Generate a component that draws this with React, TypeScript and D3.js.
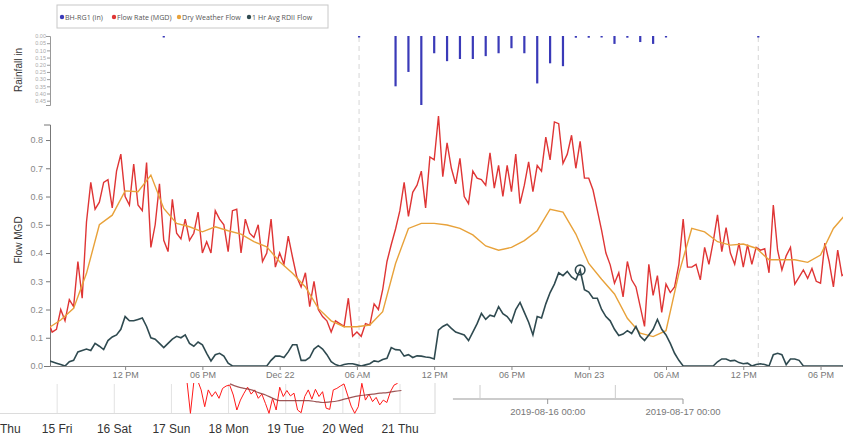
import React, { useEffect, useRef } from "react";
import * as d3 from "d3";

const W = 843;
const H = 448;

// ---------- legend ----------
const seriesNames = ["BH-RG1 (in)", "Flow Rate (MGD)", "Dry Weather Flow", "1 Hr Avg RDII Flow"];
const seriesColors = ["#3a3ab8", "#df3535", "#e8a23a", "#2f4a50"];

// ---------- main flow data (20-minute samples from flowStart) ----------
const flowStart = "2019-12-21T06:00:00";
const flowStepMin = 20;
const flowRate = [
  0.16, 0.12, 0.13, 0.2, 0.16, 0.235, 0.21, 0.37, 0.24, 0.51,
  0.65, 0.555, 0.58, 0.65, 0.66, 0.56, 0.69, 0.75, 0.6, 0.57,
  0.715, 0.57, 0.55, 0.72, 0.42, 0.5, 0.645, 0.445, 0.405, 0.59,
  0.47, 0.45, 0.52, 0.445, 0.47, 0.545, 0.4, 0.44, 0.4, 0.55,
  0.52, 0.5, 0.405, 0.55, 0.555, 0.4, 0.52, 0.47, 0.455, 0.5,
  0.37, 0.4, 0.52, 0.35, 0.4, 0.36, 0.46, 0.385, 0.315, 0.28,
  0.33, 0.21, 0.3, 0.2, 0.175, 0.16, 0.12, 0.16, 0.15, 0.14,
  0.24, 0.105, 0.12, 0.105, 0.15, 0.145, 0.22, 0.2, 0.27, 0.37,
  0.43, 0.485, 0.55, 0.65, 0.53, 0.615, 0.64, 0.69, 0.56, 0.74,
  0.73, 0.885, 0.67, 0.79, 0.7, 0.645, 0.735, 0.6, 0.575, 0.69,
  0.665, 0.66, 0.64, 0.755, 0.63, 0.71, 0.6, 0.71, 0.617, 0.75,
  0.575, 0.64, 0.723, 0.617, 0.71, 0.69, 0.81, 0.73, 0.864, 0.858,
  0.717, 0.75, 0.817, 0.7, 0.795, 0.665, 0.665, 0.623, 0.552, 0.48,
  0.4, 0.358, 0.293, 0.33, 0.245, 0.37, 0.305, 0.28, 0.21, 0.14,
  0.36, 0.25, 0.32, 0.19, 0.29, 0.26, 0.28, 0.36, 0.52, 0.35,
  0.35, 0.36, 0.305, 0.42, 0.36, 0.44, 0.535, 0.405, 0.49, 0.4,
  0.36, 0.435, 0.35, 0.43, 0.36, 0.42, 0.41, 0.415, 0.33, 0.57,
  0.41, 0.34, 0.39, 0.42, 0.29, 0.315, 0.34, 0.31, 0.345, 0.3,
  0.293, 0.435, 0.37, 0.28, 0.41, 0.32, 0.33, 0.33,
];
const rdiiFlow = [
  0.02, 0.015, 0.01, 0.005, 0, 0.015, 0.02, 0.05, 0.055, 0.06,
  0.055, 0.08, 0.07, 0.058, 0.09, 0.103, 0.11, 0.13, 0.175, 0.16,
  0.16, 0.165, 0.17, 0.14, 0.1, 0.095, 0.08, 0.065, 0.08, 0.095,
  0.105, 0.1, 0.11, 0.08, 0.07, 0.085, 0.075, 0.045, 0.018, 0.04,
  0.045, 0.035, 0.01, 0, 0, 0, 0, 0, 0, 0,
  0, 0, 0.02, 0.035, 0.035, 0.03, 0.05, 0.075, 0.075, 0.02,
  0.02, 0.03, 0.06, 0.072, 0.06, 0.04, 0.015, 0.005, 0, 0.005,
  0.008, 0.008, 0.004, 0, 0.004, 0.008, 0.018, 0.015, 0.023, 0.027,
  0.065, 0.058, 0.057, 0.035, 0.04, 0.03, 0.036, 0.035, 0.032, 0.03,
  0.025, 0.127, 0.14, 0.148, 0.133, 0.12, 0.115, 0.11, 0.09, 0.12,
  0.15, 0.186, 0.165, 0.18, 0.175, 0.21, 0.185, 0.175, 0.155, 0.2,
  0.225, 0.19, 0.155, 0.11, 0.175, 0.17, 0.22, 0.26, 0.29, 0.33,
  0.32, 0.335, 0.315, 0.305, 0.34, 0.27, 0.262, 0.24, 0.24, 0.2,
  0.175, 0.16, 0.13, 0.108, 0.113, 0.125, 0.115, 0.14, 0.105, 0.09,
  0.11, 0.13, 0.165, 0.13, 0.11, 0.08, 0.045, 0.02, 0, 0,
  0, 0, 0, 0, 0, 0, 0.015, 0.025, 0.025, 0.018,
  0.02, 0.012, 0.008, 0.01, 0, 0.005, 0.008, 0.005, 0, 0.04,
  0.045, 0.04, 0.005, 0.025, 0.025, 0.02, 0, 0, 0, 0,
  0, 0, 0, 0, 0, 0, 0, 0,
];
const markerIndex = 124;

// hourly dry weather flow
const dwfStepMin = 60;
const dryWeatherFlow = [
  0.133, 0.163, 0.204, 0.328, 0.5, 0.534, 0.62, 0.617, 0.676, 0.558,
  0.505, 0.493, 0.475, 0.493, 0.479, 0.467, 0.44, 0.422, 0.369, 0.328,
  0.28, 0.204, 0.16, 0.139, 0.139, 0.145, 0.192, 0.363, 0.487, 0.505,
  0.505, 0.499, 0.487, 0.464, 0.425, 0.41, 0.42, 0.444, 0.479, 0.555,
  0.545, 0.467, 0.363, 0.307, 0.255, 0.169, 0.116, 0.104, 0.125, 0.328,
  0.487, 0.475, 0.44, 0.428, 0.432, 0.417, 0.376, 0.376, 0.376, 0.367,
  0.393, 0.487, 0.54,
];

// rainfall (inches per hour)
const rainTimes = [
  "2019-12-21T15:00:00", "2019-12-22T06:10:00",
  "2019-12-22T09:00:00", "2019-12-22T10:00:00", "2019-12-22T11:00:00", "2019-12-22T12:00:00",
  "2019-12-22T13:00:00", "2019-12-22T14:00:00", "2019-12-22T15:00:00", "2019-12-22T16:00:00",
  "2019-12-22T17:00:00", "2019-12-22T18:00:00", "2019-12-22T19:00:00", "2019-12-22T20:00:00",
  "2019-12-22T21:00:00", "2019-12-22T22:00:00", "2019-12-22T23:00:00", "2019-12-23T00:00:00",
  "2019-12-23T01:00:00", "2019-12-23T02:00:00", "2019-12-23T03:00:00", "2019-12-23T04:00:00",
  "2019-12-23T05:00:00", "2019-12-23T06:00:00", "2019-12-23T13:10:00",
];
const rainfall = [
  0.004, 0.004,
  0.35, 0.25, 0.48, 0.12, 0.175, 0.16, 0.16, 0.14, 0.12, 0.085, 0.12,
  0.33, 0.19, 0.21, 0.012, 0.012, 0.006, 0.055, 0.012, 0.042, 0.055, 0.006,
  0.004,
];
const eventTimes = ["2019-12-22T06:10:00", "2019-12-23T13:10:00"];

const xDomain = ["2019-12-21T06:10:00", "2019-12-23T19:40:00"];
const xTickTimes = [
  "2019-12-21T12:00:00", "2019-12-21T18:00:00", "2019-12-22T00:00:00", "2019-12-22T06:00:00",
  "2019-12-22T12:00:00", "2019-12-22T18:00:00", "2019-12-23T00:00:00", "2019-12-23T06:00:00",
  "2019-12-23T12:00:00", "2019-12-23T18:00:00",
];
const xTickLabels = ["12 PM", "06 PM", "Dec 22", "06 AM", "12 PM", "06 PM", "Mon 23", "06 AM", "12 PM", "06 PM"];
const flowTicks = [0, 0.1, 0.2, 0.3, 0.4, 0.5, 0.6, 0.7, 0.8];
const rainTicks = [0, 0.05, 0.1, 0.15, 0.2, 0.25, 0.3, 0.35, 0.4, 0.45];

// ---------- navigator fragment ----------
const navDayLabels = ["Thu", "15 Fri", "16 Sat", "17 Sun", "18 Mon", "19 Tue", "20 Wed", "21 Thu"];
const navFlowStartDay = 3.27;
const navFlowStep = 1 / 16;
const navFlow = [
  1.1, 0.0, 1.1, 1.1, 0.78, 0.22, 0.78, 0.56, 0.72, 0.5,
  0.83, 0.91, 0.94, 0.61, 0.11, 0.44, 0.67, 0.87, 0.64, 0.78,
  0.5, 0.64, 0.33, 0.0, 0.5, 0.11, 0.87, 0.56, 0.76, 0.58,
  0.67, 0.11, 0.02, 0.56, 0.78, 0.47, 0.8, 0.56, 0.72, 0.17,
  0.13, 0.78, 0.83, 0.91, 0.98, 0.61, 0.24, 0.0, 0.22, 1.0,
  0.44, 0.64, 0.39, 0.53, 0.28, 0.44, 0.36, 0.72, 0.94, 1.0,
];
const navAvgStartDay = 4.025;
const navAvgStep = 1 / 8;
const navAvg = [
  0.98, 0.89, 0.83, 0.78, 0.69, 0.61, 0.5, 0.42, 0.42, 0.42,
  0.42, 0.42, 0.39, 0.36, 0.38, 0.41, 0.47, 0.53, 0.58, 0.61,
  0.64, 0.67, 0.69, 0.73, 0.76,
];
const rangeStart = "2019-08-15T07:12:00";
const rangeTickTimes = ["2019-08-15T12:00:00", "2019-08-16T00:00:00", "2019-08-16T12:00:00", "2019-08-17T00:00:00"];
const rangeTickLabels = ["", "2019-08-16 00:00", "", "2019-08-17 00:00"];

const FONT = "'Liberation Sans', Arial, sans-serif";

export default function App() {
  const flowAxisRef = useRef<SVGGElement>(null);
  const rainAxisRef = useRef<SVGGElement>(null);
  const xAxisRef = useRef<SVGGElement>(null);

  const x = d3.scaleTime().domain(xDomain.map((s) => new Date(s))).range([50, 842]);
  const yFlow = d3.scaleLinear().domain([0, 0.855]).range([366, 124.5]);
  const yRain = d3.scaleLinear().domain([0, 0.48]).range([36, 105]);

  const t0 = +new Date(flowStart);
  const flowTimes = flowRate.map((_, i) => new Date(t0 + i * flowStepMin * 60000));
  const dwfTimes = dryWeatherFlow.map((_, i) => new Date(t0 + i * dwfStepMin * 60000));

  const redLine = d3.line<number>().x((_, i) => x(flowTimes[i])).y((d) => yFlow(d));
  const darkLine = d3.line<number>().x((_, i) => x(flowTimes[i])).y((d) => yFlow(d));
  const orangeLine = d3
    .line<number>()
    .x((_, i) => x(dwfTimes[i]))
    .y((d) => yFlow(d));

  const navX = d3.scaleLinear().domain([0, 7]).range([0, 400]);
  const navY = d3.scaleLinear().domain([0, 1]).range([413.3, 383.3]);
  const navFlowLine = d3
    .line<number>()
    .x((_, i) => navX(navFlowStartDay + i * navFlowStep))
    .y((d) => navY(d));
  const navAvgLine = d3
    .line<number>()
    .x((_, i) => navX(navAvgStartDay + i * navAvgStep))
    .y((d) => navY(d))
    .curve(d3.curveMonotoneX);

  const rangeX = d3
    .scaleTime()
    .domain([new Date(rangeTickTimes[0]), new Date(rangeTickTimes[3])])
    .range([480, 683]);

  useEffect(() => {
    document.body.style.margin = "0";
    const fa = d3.select(flowAxisRef.current!);
    fa.call(
      d3.axisLeft(yFlow).tickValues(flowTicks).tickFormat(d3.format(".1f")).tickSize(4).tickSizeOuter(6)
    );
    fa.selectAll("path,line").attr("stroke", "#777");
    fa.selectAll("text").attr("fill", "#888").style("font-size", "9px").style("font-family", FONT);

    const ra = d3.select(rainAxisRef.current!);
    ra.call(
      d3.axisLeft(yRain).tickValues(rainTicks).tickFormat(d3.format(".2f")).tickSize(3).tickSizeOuter(4)
    );
    ra.selectAll("path,line").attr("stroke", "#999");
    ra.selectAll("text")
      .attr("fill", "#aaa")
      .attr("x", -4)
      .style("font-size", "5.5px")
      .style("font-family", FONT);

    const xa = d3.select(xAxisRef.current!);
    xa.call(
      d3
        .axisBottom(x)
        .tickValues(xTickTimes.map((s) => new Date(s)))
        .tickFormat((_, i) => xTickLabels[i])
        .tickSize(4)
        .tickSizeOuter(0)
    );
    xa.selectAll("path,line").attr("stroke", "#888");
    xa.selectAll("text").attr("fill", "#777").attr("y", 6).style("font-size", "9px").style("font-family", FONT);
  }, []);

  const legendX = [62, 114, 179, 249];
  const mx = x(flowTimes[markerIndex]);
  const my = yFlow(rdiiFlow[markerIndex]);

  return (
    <svg
      width={W}
      height={H}
      style={{ position: "absolute", left: 0, top: 0, background: "#fff", fontFamily: FONT }}
    >
      <defs>
        <clipPath id="plotClip">
          <rect x={50} y={110} width={793} height={258} />
        </clipPath>
        <clipPath id="navClip">
          <rect x={0} y={383} width={435} height={31} />
        </clipPath>
      </defs>
      <rect x={0} y={0} width={W} height={H} fill="#fff" />

      {/* legend */}
      <rect x={57} y={5} width={271} height={23} fill="#fff" stroke="#c8c8c8" strokeWidth={1} />
      {seriesNames.map((n, i) => (
        <g key={n}>
          <circle cx={legendX[i]} cy={17} r={2.2} fill={seriesColors[i]} />
          <text
            x={legendX[i] + 3}
            y={19.6}
            fontSize={7.1}
            fill="#555"
            style={{ fontFamily: "'Open Sans', sans-serif" }}
          >
            {n}
          </text>
        </g>
      ))}

      {/* event dashed lines */}
      {eventTimes.map((t) => (
        <line
          key={t}
          x1={x(new Date(t))}
          x2={x(new Date(t))}
          y1={37}
          y2={366}
          stroke="#d6d6d6"
          strokeWidth={1}
          strokeDasharray="5,4"
        />
      ))}

      {/* rainfall */}
      <g ref={rainAxisRef} transform="translate(50,0)" />
      <text transform="translate(22,70) rotate(-90)" textAnchor="middle" fontSize={10} fill="#333">
        Rainfall in
      </text>
      {rainfall.map((v, i) => {
        const cx = x(new Date(rainTimes[i]));
        return (
          <rect
            key={i}
            x={cx - 1.1}
            y={yRain(0)}
            width={2.2}
            height={Math.max(1.5, yRain(v) - yRain(0))}
            fill={seriesColors[0]}
          />
        );
      })}

      {/* flow */}
      <g ref={flowAxisRef} transform="translate(50,0)" />
      <text transform="translate(22,240) rotate(-90)" textAnchor="middle" fontSize={10} fill="#333">
        Flow MGD
      </text>
      <g clipPath="url(#plotClip)">
        <path d={redLine(flowRate) || ""} fill="none" stroke={seriesColors[1]} strokeWidth={1.4} />
        <path d={orangeLine(dryWeatherFlow) || ""} fill="none" stroke={seriesColors[2]} strokeWidth={1.4} />
        <path d={darkLine(rdiiFlow) || ""} fill="none" stroke={seriesColors[3]} strokeWidth={1.6} />
        <circle cx={mx} cy={my} r={4.8} fill="none" stroke={seriesColors[3]} strokeWidth={1.6} />
      </g>
      <g ref={xAxisRef} transform="translate(0,366)" />

      {/* navigator fragment */}
      {navDayLabels.slice(1).map((_, i) => (
        <line
          key={i}
          x1={navX(i + 1)}
          x2={navX(i + 1)}
          y1={384}
          y2={413}
          stroke="#e2e2e2"
          strokeWidth={1}
        />
      ))}
      <line x1={0} x2={435} y1={413.5} y2={413.5} stroke="#dcdcdc" strokeWidth={1.2} />
      <line x1={435} x2={435} y1={383} y2={414} stroke="#e4e4e4" strokeWidth={1.5} />
      <g clipPath="url(#navClip)">
        <path d={navFlowLine(navFlow) || ""} fill="none" stroke="#ff1a1a" strokeWidth={1} />
        <path d={navAvgLine(navAvg) || ""} fill="none" stroke="#8e3a3a" strokeOpacity={0.85} strokeWidth={1.2} />
      </g>
      {navDayLabels.map((l, i) => (
        <text
          key={l}
          x={i === 0 ? 0 : navX(i)}
          y={433}
          textAnchor={i === 0 ? "start" : "middle"}
          fontSize={12}
          fill="#333"
        >
          {l}
        </text>
      ))}

      {/* range selector axis fragment */}
      <line x1={rangeX(new Date(rangeStart))} x2={683} y1={399} y2={399} stroke="#999" strokeWidth={1} />
      {rangeTickTimes.map((t, i) => {
        const tx = rangeX(new Date(t));
        const major = rangeTickLabels[i] !== "";
        return (
          <g key={t}>
            <line
              x1={tx}
              x2={tx}
              y1={major ? 399 : 385}
              y2={major ? 404 : 399}
              stroke={major ? "#999" : "#ccc"}
              strokeWidth={1}
            />
            {major && (
              <text x={tx} y={415} textAnchor="middle" fontSize={9.5} fill="#777">
                {rangeTickLabels[i]}
              </text>
            )}
          </g>
        );
      })}
    </svg>
  );
}
